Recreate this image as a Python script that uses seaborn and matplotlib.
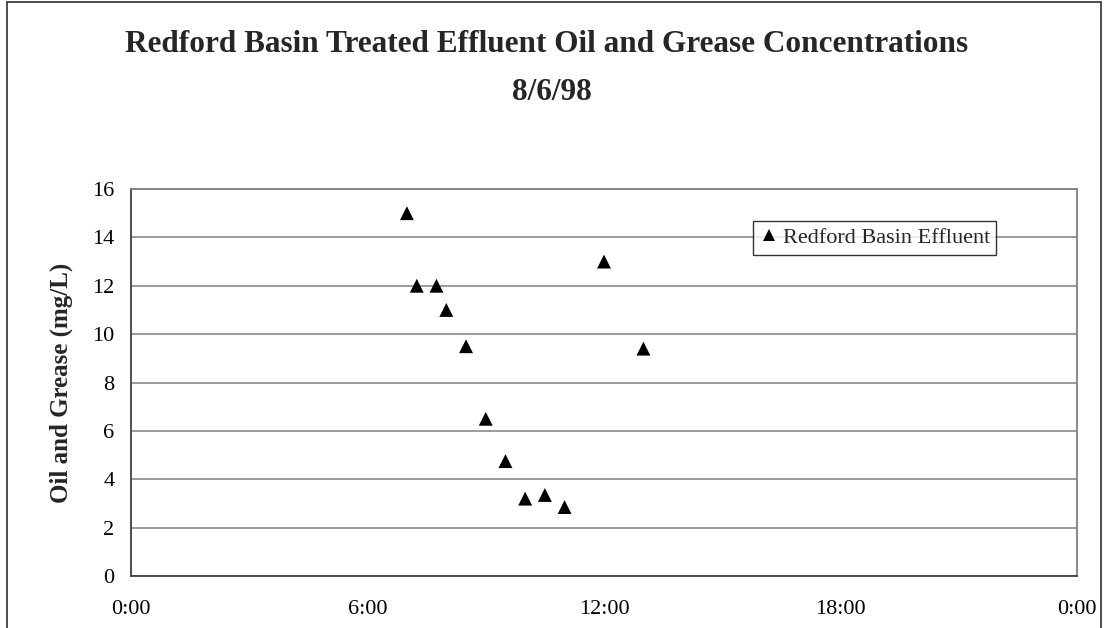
import matplotlib
matplotlib.use("Agg")
import matplotlib.pyplot as plt
import seaborn as sns
import pandas as pd
from matplotlib.patches import Rectangle

# Data
sample_times = ["7:00", "7:15", "7:45", "8:00", "8:30", "9:00", "9:30",
                "10:00", "10:30", "11:00", "12:00", "13:00"]
oil_grease = [15.0, 12.0, 12.0, 11.0, 9.5, 6.5, 4.75, 3.2, 3.35, 2.85, 13.0, 9.4]
series_name = "Redford Basin Effluent"
x_ticks_hours = [0, 6, 12, 18, 24]
x_tick_labels = ["0:00", "6:00", "12:00", "18:00", "0:00"]
y_ticks = [0, 2, 4, 6, 8, 10, 12, 14, 16]

def to_hours(t):
    h, m = t.split(":")
    return int(h) + int(m) / 60.0

df = pd.DataFrame({"hour": [to_hours(t) for t in sample_times],
                   "value": oil_grease,
                   "series": series_name})

sns.set_theme(style="white")
plt.rcParams["font.family"] = ["Liberation Serif", "DejaVu Serif"]

fig = plt.figure(figsize=(11.04, 6.28), dpi=100)
ax = fig.add_axes([131 / 1104, 52 / 628, 946 / 1104, 387 / 628])

sns.scatterplot(data=df, x="hour", y="value", hue="series", palette=["black"],
                marker="^", s=100, linewidth=0, ax=ax)

ax.set_xlim(0, 24)
ax.set_ylim(0, 16)
ax.set_xticks(x_ticks_hours)
ax.set_xticklabels(x_tick_labels)
ax.set_yticks(y_ticks)
ax.yaxis.grid(True, color="#808080", linewidth=1.1)
ax.xaxis.grid(False)
ax.set_axisbelow(True)
ax.tick_params(axis="both", which="major", direction="out", length=6, width=1,
               color="#404040", labelsize=16, labelcolor="black")
ax.tick_params(axis="y", pad=6)
ax.tick_params(axis="x", pad=11)
ax.set_xlabel("")
ax.set_ylabel("Oil and Grease (mg/L)", fontsize=18, fontweight="bold", labelpad=14)

for side in ["left", "bottom"]:
    ax.spines[side].set_color("#404040")
    ax.spines[side].set_linewidth(1.3)
for side in ["top", "right"]:
    ax.spines[side].set_color("#808080")
    ax.spines[side].set_linewidth(1.3)

leg = ax.legend(loc="upper left", bbox_to_anchor=(0.657, 0.918), borderaxespad=0,
                frameon=True, fancybox=False, fontsize=16, handletextpad=0.15,
                handlelength=0.9, borderpad=0.3, markerscale=0.8)
leg.get_frame().set_edgecolor("black")
leg.get_frame().set_linewidth(1.0)

fig.text(0.495, 1 - 45 / 628, "Redford Basin Treated Effluent Oil and Grease Concentrations",
         ha="center", va="center", fontsize=22.5, fontweight="bold")
fig.text(0.5, 1 - 92 / 628, "8/6/98", ha="center", va="center",
         fontsize=22.5, fontweight="bold")

fig.patches.append(Rectangle((7 / 1104, -0.05), (1101 - 7) / 1104, 1.05 - 2 / 628,
                             transform=fig.transFigure, fill=False,
                             edgecolor="#404040", linewidth=1.3))

fig.savefig("out.png", dpi=100)
